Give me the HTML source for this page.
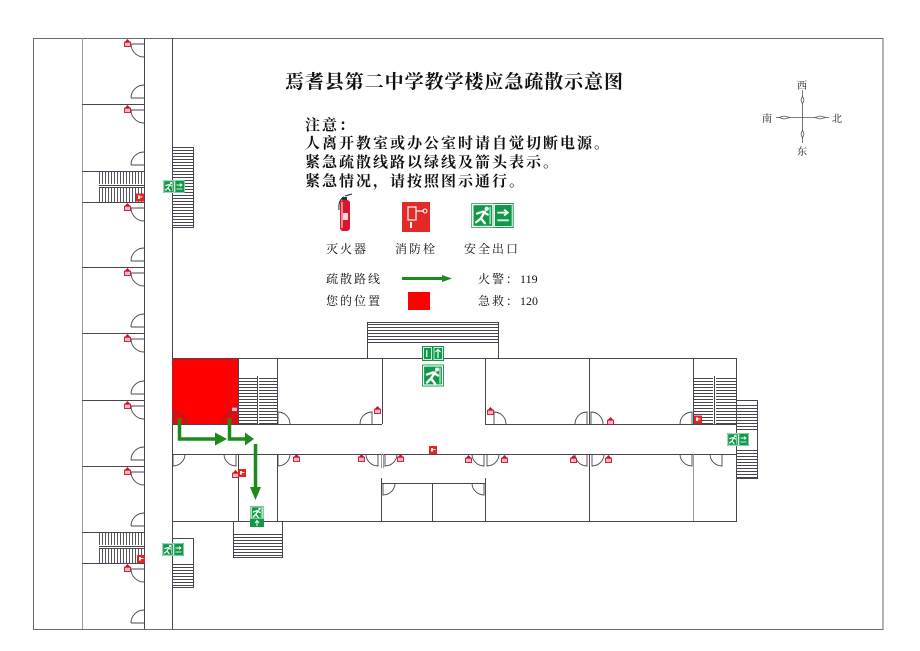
<!DOCTYPE html>
<html>
<head>
<meta charset="utf-8">
<style>
html,body{margin:0;padding:0;background:#fff;}
svg{display:block;}
.w{stroke:#4a4350;stroke-width:1;fill:none;}
.g{stroke:#9a9a9a;stroke-width:1;fill:none;}
.d{stroke:#4a4350;stroke-width:0.9;fill:none;}
.t{font-family:"Liberation Serif","Noto Serif CJK SC",serif;fill:#111;}
</style>
</head>
<body>
<svg width="920" height="651" viewBox="0 0 920 651" xmlns="http://www.w3.org/2000/svg">
<defs>
<pattern id="ph" x="0" y="0" width="6" height="3" patternUnits="userSpaceOnUse"><rect width="6" height="1" fill="#4a4350"/></pattern>
<pattern id="pv" x="0" y="0" width="3" height="6" patternUnits="userSpaceOnUse"><rect width="1" height="6" fill="#5a5360"/></pattern>
<symbol id="fe" viewBox="0 0 7 8">
<path d="M3.5 0 L6.5 3.2 H0.5 Z" fill="#c8102e"/>
<rect x="0.5" y="3.2" width="6" height="4.3" fill="#f4b8c4" stroke="#c8102e" stroke-width="0.9"/>
</symbol>
<symbol id="hy" viewBox="0 0 8 8">
<rect width="8" height="8" fill="#e52420"/>
<rect x="2" y="2" width="2" height="3.5" fill="#fff"/>
<rect x="4" y="3" width="2.5" height="0.9" fill="#fff"/>
</symbol>
<symbol id="exh" viewBox="0 0 44 26">
<rect width="44" height="26" fill="#109a48"/>
<rect x="1.5" y="1.5" width="21" height="23" fill="none" stroke="#fff" stroke-width="1.5"/>
<path d="M14 9 L10 16 L5 20 M10 16 L14 21 M6 11 L12 9 L17 12" stroke="#fff" stroke-width="2.4" fill="none" stroke-linecap="round"/>
<circle cx="16" cy="6" r="2.2" fill="#fff"/>
<path d="M19.5 4 V22" stroke="#fff" stroke-width="1"/>
<rect x="24" y="1.5" width="18.5" height="23" fill="none" stroke="#fff" stroke-width="1"/>
<path d="M27 10 H37 M34 7 L38 10 L34 13" stroke="#fff" stroke-width="1.8" fill="none"/>
<rect x="27" y="17" width="12" height="2" fill="#cfeedd"/>
</symbol>
<symbol id="man" viewBox="0 0 22 22">
<rect width="22" height="22" fill="#109a48"/>
<rect x="1.5" y="1.5" width="19" height="19" fill="none" stroke="#fff" stroke-width="1.2"/>
<path d="M13 8 L9 14 L5 18 M9 14 L13 19 M5 10 L11 8 L16 11" stroke="#fff" stroke-width="2.4" fill="none" stroke-linecap="round"/>
<circle cx="15" cy="5" r="2" fill="#fff"/>
<path d="M18 3 V19" stroke="#fff" stroke-width="1"/>
</symbol>
</defs>

<!-- frame -->
<rect x="33.5" y="38.5" width="849.5" height="591" fill="none" stroke="#6a6a6a" stroke-width="1"/>

<!-- ===== LEFT COLUMN ===== -->
<line class="g" x1="82.5" y1="38" x2="82.5" y2="629"/>
<line class="w" x1="144.5" y1="38" x2="144.5" y2="629"/>
<line class="w" x1="172.5" y1="38" x2="172.5" y2="629"/>
<g class="w">
<line x1="82" y1="104.5" x2="144" y2="104.5"/>
<line x1="82" y1="171.5" x2="144" y2="171.5"/>
<line x1="82" y1="202.5" x2="144" y2="202.5"/>
<line x1="82" y1="267.5" x2="144" y2="267.5"/>
<line x1="82" y1="333.5" x2="144" y2="333.5"/>
<line x1="82" y1="400.5" x2="144" y2="400.5"/>
<line x1="82" y1="466.5" x2="144" y2="466.5"/>
<line x1="82" y1="532.5" x2="144" y2="532.5"/>
<line x1="82" y1="563.5" x2="144" y2="563.5"/>
</g>
<!-- left column stairs -->
<rect x="99" y="172" width="45" height="12" fill="url(#pv)"/>
<rect x="99" y="188" width="45" height="14" fill="url(#pv)"/>
<line class="w" x1="99" y1="185.5" x2="144" y2="185.5"/>
<line class="w" x1="99" y1="187.5" x2="144" y2="187.5"/>
<rect x="99" y="533" width="45" height="12" fill="url(#pv)"/>
<rect x="99" y="549" width="45" height="14" fill="url(#pv)"/>
<line class="w" x1="99" y1="546.5" x2="144" y2="546.5"/>
<line class="w" x1="99" y1="548.5" x2="144" y2="548.5"/>

<!-- right small stairs of left column -->
<rect class="w" x="172.5" y="147.5" width="21" height="80"/>
<rect x="173" y="149" width="20" height="78" fill="url(#ph)"/>
<rect class="w" x="172.5" y="538.5" width="21" height="49"/>
<rect x="173" y="564" width="20" height="23" fill="url(#ph)"/>

<!-- left column doors -->
<g class="d">
<path d="M131,44 H144 M131,44 A13,13 0 0,0 144,57"/>
<path d="M131,98 H144 M144,85 A13,13 0 0,0 131,98"/>
<path d="M131,110 H144 M131,110 A13,13 0 0,0 144,123"/>
<path d="M131,165 H144 M144,152 A13,13 0 0,0 131,165"/>
<path d="M131,208 H144 M131,208 A13,13 0 0,0 144,221"/>
<path d="M131,261 H144 M144,248 A13,13 0 0,0 131,261"/>
<path d="M131,273 H144 M131,273 A13,13 0 0,0 144,286"/>
<path d="M131,327 H144 M144,314 A13,13 0 0,0 131,327"/>
<path d="M131,339 H144 M131,339 A13,13 0 0,0 144,352"/>
<path d="M131,394 H144 M144,381 A13,13 0 0,0 131,394"/>
<path d="M131,406 H144 M131,406 A13,13 0 0,0 144,419"/>
<path d="M131,460 H144 M144,447 A13,13 0 0,0 131,460"/>
<path d="M131,472 H144 M131,472 A13,13 0 0,0 144,485"/>
<path d="M131,526 H144 M144,513 A13,13 0 0,0 131,526"/>
<path d="M131,569 H144 M131,569 A13,13 0 0,0 144,582"/>
<path d="M131,623 H144 M144,610 A13,13 0 0,0 131,623"/>
</g>
<!-- left column extinguishers -->
<use href="#fe" x="124" y="39" width="7" height="8"/>
<use href="#fe" x="124" y="105" width="7" height="8"/>
<use href="#fe" x="124" y="203" width="7" height="8"/>
<use href="#fe" x="124" y="268" width="7" height="8"/>
<use href="#fe" x="124" y="334" width="7" height="8"/>
<use href="#fe" x="124" y="401" width="7" height="8"/>
<use href="#fe" x="124" y="467" width="7" height="8"/>
<use href="#fe" x="124" y="564" width="7" height="8"/>
<use href="#hy" x="136" y="193" width="8" height="9"/>
<use href="#hy" x="137" y="555" width="8" height="8"/>

<!-- ===== MAIN BUILDING ===== -->
<rect x="172.5" y="358.5" width="66" height="66" fill="#ff0000"/>
<!-- top stair -->
<rect class="w" x="367.5" y="322.5" width="131" height="36"/>
<rect x="368" y="323" width="130" height="21" fill="url(#ph)"/>
<!-- outer walls -->
<g class="w">
<line x1="172" y1="358.5" x2="402" y2="358.5"/>
<line x1="460" y1="358.5" x2="736" y2="358.5"/>
<line x1="736.5" y1="358" x2="736.5" y2="521"/>
<line x1="172" y1="521.5" x2="737" y2="521.5"/>
<line x1="172" y1="424.5" x2="382" y2="424.5"/>
<line x1="485" y1="424.5" x2="736" y2="424.5"/>
<line x1="172" y1="454.5" x2="736" y2="454.5"/>
<!-- upper dividers -->
<line x1="238.5" y1="358" x2="238.5" y2="424"/>
<line x1="277.5" y1="358" x2="277.5" y2="424"/>
<line x1="382.5" y1="358" x2="382.5" y2="424"/>
<line x1="485.5" y1="358" x2="485.5" y2="424"/>
<line x1="589.5" y1="358" x2="589.5" y2="424"/>
<line x1="693.5" y1="358" x2="693.5" y2="424"/>
<!-- lower dividers -->
<line x1="238.5" y1="454" x2="238.5" y2="521"/>
<line x1="277.5" y1="454" x2="277.5" y2="521"/>
<line x1="381.5" y1="478" x2="381.5" y2="521"/>
<line x1="432.5" y1="483" x2="432.5" y2="521"/>
<line x1="485.5" y1="478" x2="485.5" y2="521"/>
<line x1="381" y1="483.5" x2="486" y2="483.5"/>
<line x1="589.5" y1="454" x2="589.5" y2="521"/>
</g>
<line class="g" x1="693.5" y1="454" x2="693.5" y2="521"/>
<line class="g" x1="381.5" y1="454" x2="381.5" y2="468"/>
<line class="g" x1="383.5" y1="454" x2="383.5" y2="468"/>

<!-- stair next to red room -->
<rect x="239" y="376" width="18" height="48" fill="url(#ph)"/>
<rect x="259" y="376" width="18" height="48" fill="url(#ph)"/>
<line class="w" x1="257.5" y1="376" x2="257.5" y2="424"/>
<!-- right wing stair -->
<rect x="694" y="376" width="19" height="48" fill="url(#ph)"/>
<rect x="716" y="376" width="20" height="48" fill="url(#ph)"/>
<line class="w" x1="714.5" y1="376" x2="714.5" y2="424"/>
<rect class="w" x="736.5" y="400.5" width="21" height="78"/>
<rect x="737" y="404" width="20" height="27" fill="url(#ph)"/>
<rect x="737" y="450" width="20" height="28" fill="url(#ph)"/>
<!-- lower stair -->
<rect class="w" x="233.5" y="521.5" width="49" height="36"/>
<rect x="234" y="533" width="48" height="24" fill="url(#ph)"/>

<!-- main doors -->
<g class="d">
<path d="M174,424 V412 A12,12 0 0,1 186,424"/>
<path d="M235,424 V412 A12,12 0 0,0 223,424"/>
<path d="M278,424 V412 A12,12 0 0,1 290,424"/>
<path d="M372,424 V412 A12,12 0 0,0 360,424"/>
<path d="M494,424 V412 A12,12 0 0,1 506,424"/>
<path d="M587,424 V412 A12,12 0 0,0 575,424"/>
<path d="M591,424 V412 A12,12 0 0,1 603,424"/>
<path d="M692,424 V412 A12,12 0 0,0 680,424"/>
<path d="M173,454 V466 A12,12 0 0,0 185,454"/>
<path d="M236,454 V466 A12,12 0 0,1 224,454"/>
<path d="M278,454 V466 A12,12 0 0,0 290,454"/>
<path d="M378,454 V466 A12,12 0 0,1 366,454"/>
<path d="M385,454 V466 A12,12 0 0,0 397,454"/>
<path d="M484,454 V466 A12,12 0 0,1 472,454"/>
<path d="M487,454 V466 A12,12 0 0,0 499,454"/>
<path d="M587,454 V466 A12,12 0 0,1 575,454"/>
<path d="M592,454 V466 A12,12 0 0,0 604,454"/>
<path d="M692,454 V466 A12,12 0 0,1 680,454"/>
<path d="M722,454 V466 A12,12 0 0,1 710,454"/>
<path d="M383,483 V495 A12,12 0 0,0 395,483"/>
<path d="M484,483 V495 A12,12 0 0,1 472,483"/>
</g>

<!-- main extinguishers / hydrants -->
<use href="#fe" x="231" y="404" width="7" height="8"/>
<use href="#fe" x="374" y="406" width="7" height="8"/>
<use href="#fe" x="293" y="454" width="7" height="8"/>
<use href="#fe" x="358" y="454" width="7" height="8"/>
<use href="#fe" x="397" y="454" width="7" height="8"/>
<use href="#fe" x="232" y="470" width="7" height="8"/>
<use href="#fe" x="487" y="407" width="7" height="8"/>
<use href="#fe" x="607" y="417" width="7" height="8"/>
<use href="#fe" x="465" y="455" width="7" height="8"/>
<use href="#fe" x="501" y="455" width="7" height="8"/>
<use href="#fe" x="570" y="455" width="7" height="8"/>
<use href="#fe" x="605" y="455" width="7" height="8"/>
<use href="#hy" x="429" y="446" width="8" height="8"/>
<use href="#hy" x="238" y="469" width="8" height="8"/>
<use href="#hy" x="694" y="415" width="8" height="9"/>

<!-- exit signs -->
<use href="#exh" x="163" y="180" width="22" height="13"/>
<use href="#exh" x="162" y="543" width="22" height="13"/>
<use href="#exh" x="727" y="433" width="22" height="13"/>
<!-- top exit sign -->
<rect x="422" y="346" width="22" height="15" fill="#109a48"/>
<rect x="423.5" y="347.5" width="8" height="12" fill="none" stroke="#fff" stroke-width="0.8"/>
<rect x="434" y="347.5" width="8.5" height="12" fill="none" stroke="#fff" stroke-width="0.8"/>
<path d="M438 358 V350 M435.5 352 L438 349.5 L440.5 352" stroke="#fff" stroke-width="1.2" fill="none"/>
<rect x="426" y="350" width="1.5" height="7" fill="#cfeedd"/>
<use href="#man" x="422" y="363" width="22" height="25"/>
<!-- vertical exit sign -->
<use href="#man" x="250" y="506" width="14" height="13"/>
<rect x="250" y="519" width="14" height="8" fill="#109a48"/>
<path d="M257 526 V521 M255 523 L257 520.5 L259 523" stroke="#fff" stroke-width="1" fill="none"/>

<!-- evacuation arrows -->
<g stroke="#1a8c1a" stroke-width="3.5" fill="none">
<path d="M179.5,418 V439 H216"/>
<path d="M229.5,418 V439 H246"/>
<path d="M255.5,444 V489"/>
</g>
<g fill="#1a8c1a">
<polygon points="215,432.5 227,439 215,445.5"/>
<polygon points="245,432.5 254,439 245,445.5"/>
<polygon points="250,487 261,487 255.5,500"/>
</g>

<!-- ===== TEXT ===== -->
<text class="t" x="285" y="88" font-size="19" font-weight="bold" textLength="338" lengthAdjust="spacing">焉耆县第二中学教学楼应急疏散示意图</text>
<g class="t" font-size="15" font-weight="bold" letter-spacing="2">
<text x="305" y="130">注意：</text>
<text x="305" y="148">人离开教室或办公室时请自觉切断电源。</text>
<text x="305" y="167">紧急疏散线路以绿线及箭头表示。</text>
<text x="305" y="186">紧急情况，请按照图示通行。</text>
</g>

<!-- legend icons -->
<g>
<path d="M345 196 L352 194 M344 197 Q338 200 339 210" stroke="#222" stroke-width="1" fill="none"/>
<rect x="342" y="197" width="5" height="3" fill="#333"/>
<rect x="340" y="200" width="10" height="31" rx="3" fill="#d8162e"/>
<rect x="342" y="213" width="6" height="7" fill="#f4d6dc"/>
<rect x="341" y="202" width="2" height="26" fill="#f08a98"/>
</g>
<rect x="402" y="202" width="28" height="30" fill="#e32a26"/>
<rect x="408" y="207" width="8" height="13" fill="none" stroke="#fff" stroke-width="1.2"/>
<path d="M416 211 H424" stroke="#fff" stroke-width="1.2"/>
<circle cx="425" cy="211" r="2" fill="none" stroke="#fff" stroke-width="1"/>
<rect x="410" y="222" width="2" height="6" fill="#fff"/>
<use href="#exh" x="471" y="203" width="43" height="25"/>

<g class="t" font-size="12" letter-spacing="2">
<text x="326" y="253">灭火器</text>
<text x="395" y="253">消防栓</text>
<text x="464" y="253">安全出口</text>
<text x="326" y="283">疏散路线</text>
<text x="326" y="305">您的位置</text>
<text x="478" y="283">火警：<tspan letter-spacing="0">119</tspan></text>
<text x="478" y="305">急救：<tspan letter-spacing="0">120</tspan></text>
</g>
<line x1="402" y1="278.5" x2="443" y2="278.5" stroke="#1a8c1a" stroke-width="3"/>
<polygon points="442,275 452,278.5 442,282" fill="#1a8c1a"/>
<rect x="408" y="292" width="22" height="18" fill="#ff0000"/>

<!-- compass -->
<g stroke="#555" stroke-width="0.8" fill="#fff">
<line x1="802.5" y1="90" x2="802.5" y2="143"/>
<line x1="776" y1="117.5" x2="829" y2="117.5"/>
<polygon points="802.5,96 804,100 802.5,104 801,100"/>
<polygon points="802.5,130 804,134 802.5,138 801,134"/>
<polygon points="779,117.5 784,116 790,117.5 784,119"/>
<polygon points="815,117.5 820,116 826,117.5 820,119"/>
</g>
<g class="t" font-size="10" fill="#333">
<text x="797" y="89">西</text>
<text x="797" y="155">东</text>
<text x="762" y="122">南</text>
<text x="832" y="122">北</text>
</g>
</svg>
</body>
</html>
